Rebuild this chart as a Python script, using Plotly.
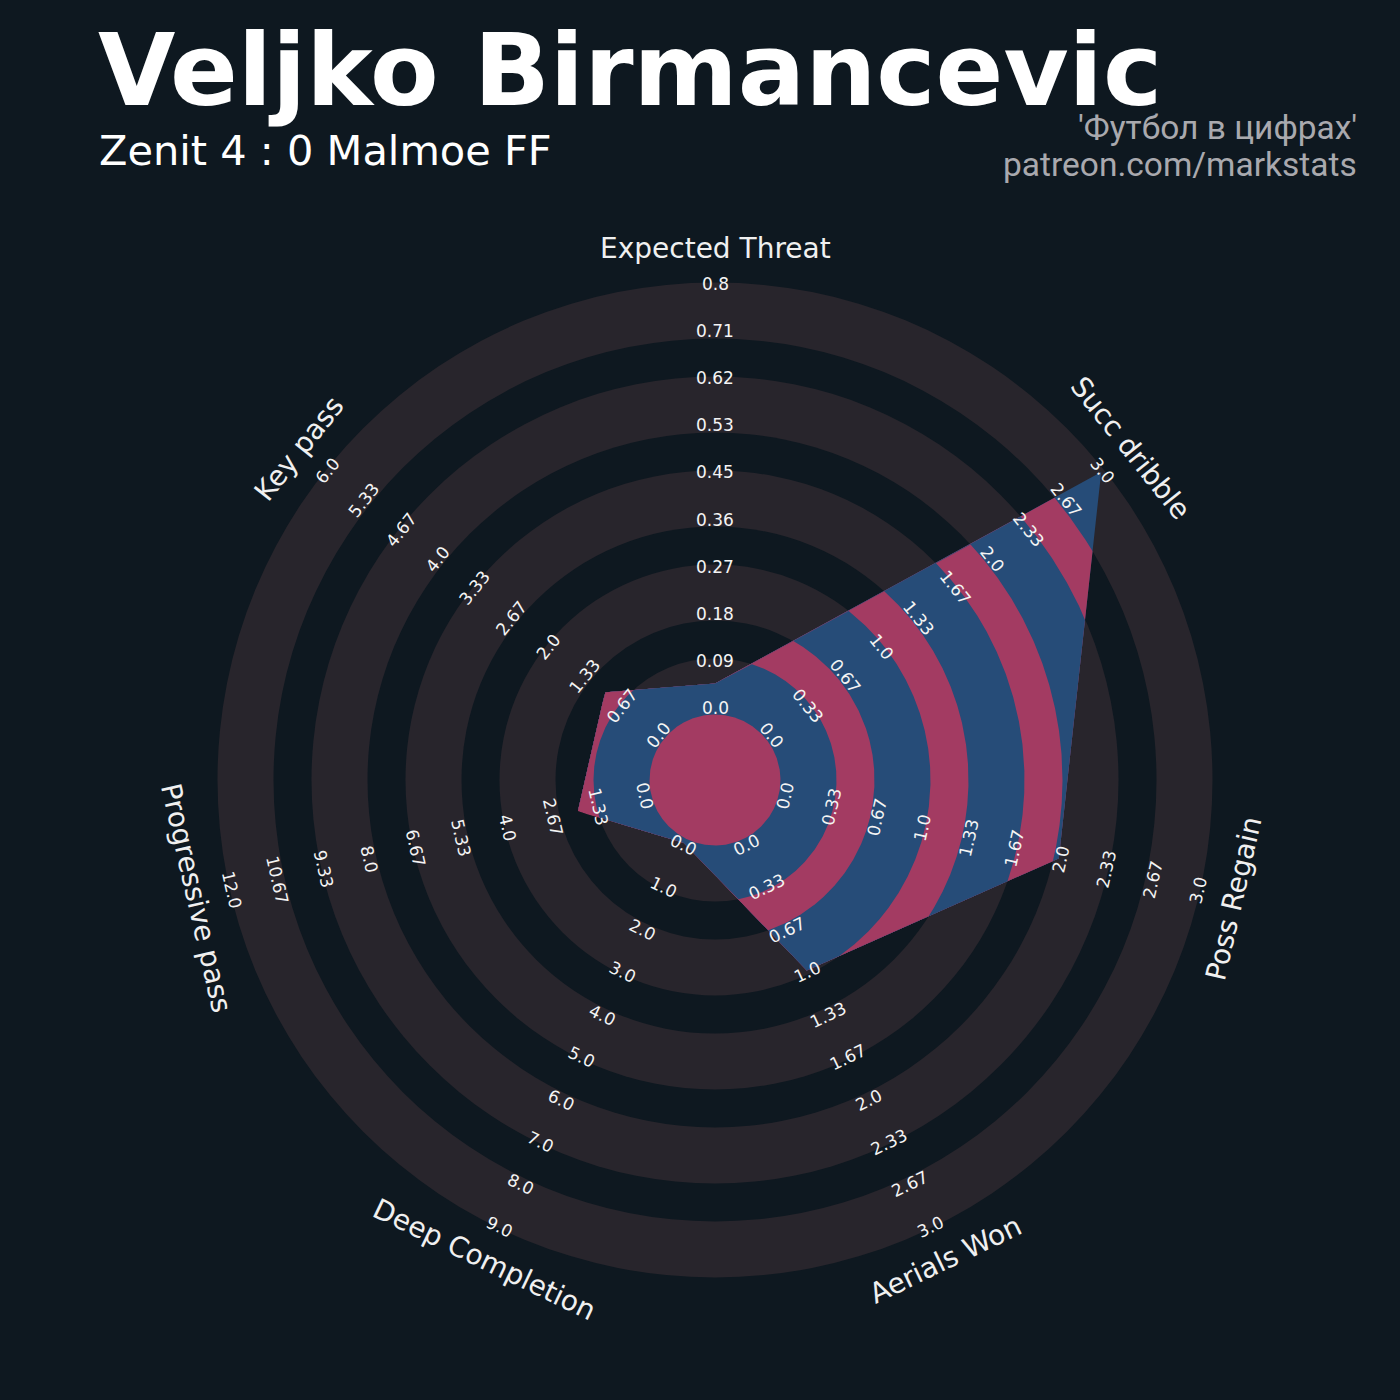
import numpy as np
import plotly.graph_objects as go

# ---------------- data ----------------
params = ["Expected Threat", "Succ dribble", "Poss Regain", "Aerials Won",
          "Deep Completion", "Progressive pass", "Key pass"]
range_low = [0.0, 0.0, 0.0, 0.0, 0.0, 0.0, 0.0]
range_high = [0.8, 3.0, 3.0, 3.0, 9.0, 12.0, 6.0]
values = [0.05, 3.0, 2.0, 1.0, 0.0, 2.0, 1.0]
tick_labels = [
    ["0.0", "0.09", "0.18", "0.27", "0.36", "0.45", "0.53", "0.62", "0.71", "0.8"],
    ["0.0", "0.33", "0.67", "1.0", "1.33", "1.67", "2.0", "2.33", "2.67", "3.0"],
    ["0.0", "0.33", "0.67", "1.0", "1.33", "1.67", "2.0", "2.33", "2.67", "3.0"],
    ["0.0", "0.33", "0.67", "1.0", "1.33", "1.67", "2.0", "2.33", "2.67", "3.0"],
    ["0.0", "1.0", "2.0", "3.0", "4.0", "5.0", "6.0", "7.0", "8.0", "9.0"],
    ["0.0", "1.33", "2.67", "4.0", "5.33", "6.67", "8.0", "9.33", "10.67", "12.0"],
    ["0.0", "0.67", "1.33", "2.0", "2.67", "3.33", "4.0", "4.67", "5.33", "6.0"],
]
title_text = "Veljko Birmancevic"
subtitle_text = "Zenit 4 : 0 Malmoe FF"
credit_1 = "'Футбол в цифрах'"
credit_2 = "patreon.com/markstats"

# ---------------- style / geometry ----------------
W, H = 1400, 1400
CX, CY = 715, 780            # radar centre in page pixels
R0, R1 = 70.0, 494.0         # radius of range min / max
ring_edges = [497.5, 441.5, 403.5, 347.5, 309.5, 253.5, 215.5, 159.5, 121.5, 65.5]
BG = "#0e1820"
GRAY = "#28252c"
PINK = "#a33b62"
BLUE = "#264c78"
LABEL_R = 532.0

n = len(params)
step = 360.0 / n
theta_deg = np.array([90.0 - k * step for k in range(n)])
theta = np.radians(theta_deg)


def frac(v, lo, hi):
    return (v - lo) / (hi - lo)


r_vert = np.array([R0 + (R1 - R0) * frac(values[k], range_low[k], range_high[k]) for k in range(n)])
PX = r_vert * np.cos(theta)
PY = r_vert * np.sin(theta)

# radius of polygon boundary along each sampled direction
phi = np.linspace(0, 360, n * 400 + 1)[:-1]
th = np.radians(90.0 - phi)
seg = np.floor(phi / step + 1e-9).astype(int) % n
nxt = (seg + 1) % n
ex = PX[nxt] - PX[seg]
ey = PY[nxt] - PY[seg]
dx, dy = np.cos(th), np.sin(th)
rp = (PX[seg] * ey - PY[seg] * ex) / (dx * ey - dy * ex)

fig = go.Figure()

shapes = []
for k, R in enumerate(ring_edges):
    shapes.append(dict(type="circle", xref="x", yref="y", x0=-R, y0=-R, x1=R, y1=R,
                       fillcolor=GRAY if k % 2 == 0 else BG, line=dict(width=0), layer="below"))

for k, R in enumerate(ring_edges):
    rr = np.minimum(R, rp)
    xs = np.append(rr * dx, rr[0] * dx[0])
    ys = np.append(rr * dy, rr[0] * dy[0])
    fig.add_trace(go.Scatter(x=xs, y=ys, mode="lines", fill="toself",
                             fillcolor=BLUE if k % 2 == 0 else PINK,
                             line=dict(width=0, color=BLUE if k % 2 == 0 else PINK),
                             hoverinfo="skip", showlegend=False))


def text_angle(tdeg):
    rot = (tdeg - 90.0 + 180.0) % 360.0 - 180.0
    if rot > 90:
        rot -= 180
    elif rot < -90:
        rot += 180
    return -rot


annotations = []
for k in range(n):
    ang = text_angle(theta_deg[k])
    labs = tick_labels[k]
    m = len(labs)
    for i, lab in enumerate(labs):
        r = R0 + 2 + (R1 - R0) * i / (m - 1)
        annotations.append(dict(x=r * np.cos(theta[k]), y=r * np.sin(theta[k]), xref="x", yref="y",
                                text=lab, showarrow=False, textangle=ang,
                                xanchor="center", yanchor="middle",
                                font=dict(family="DejaVu Sans", size=17, color="#f4f4f4")))
    annotations.append(dict(x=LABEL_R * np.cos(theta[k]), y=LABEL_R * np.sin(theta[k]), xref="x", yref="y",
                            text=params[k], showarrow=False, textangle=ang,
                            xanchor="center", yanchor="middle",
                            font=dict(family="DejaVu Sans", size=28, color="#f0f0f0")))


def px(X, Y):
    return X - CX, CY - Y


tx, ty = px(96, 70)
annotations.append(dict(x=tx, y=ty, xref="x", yref="y", text=title_text, showarrow=False,
                        xanchor="left", yanchor="middle",
                        font=dict(family="DejaVu Sans", size=100, color="#ffffff", weight="bold")))
tx, ty = px(97, 150)
annotations.append(dict(x=tx, y=ty, xref="x", yref="y", text=subtitle_text, showarrow=False,
                        xanchor="left", yanchor="middle",
                        font=dict(family="DejaVu Sans", size=41.5, color="#ffffff")))
tx, ty = px(1359, 127)
annotations.append(dict(x=tx, y=ty, xref="x", yref="y", text=credit_1, showarrow=False,
                        xanchor="right", yanchor="middle",
                        font=dict(family="Roboto", size=33.5, color="#a9a9ae")))
tx, ty = px(1359, 164)
annotations.append(dict(x=tx, y=ty, xref="x", yref="y", text=credit_2, showarrow=False,
                        xanchor="right", yanchor="middle",
                        font=dict(family="Roboto", size=33.5, color="#a9a9ae")))

fig.update_layout(
    width=W, height=H, margin=dict(l=0, r=0, t=0, b=0),
    paper_bgcolor=BG, plot_bgcolor=BG,
    xaxis=dict(range=[-CX, W - CX], visible=False, fixedrange=True),
    yaxis=dict(range=[-(H - CY), CY], visible=False, fixedrange=True, scaleanchor="x", scaleratio=1),
    shapes=shapes, annotations=annotations, showlegend=False,
)

fig.write_html(
    "out.html",
    config={"displayModeBar": False},
    post_script="document.body.style.margin='0';document.body.style.overflow='hidden';"
                "document.body.style.background='" + BG + "';",
)
